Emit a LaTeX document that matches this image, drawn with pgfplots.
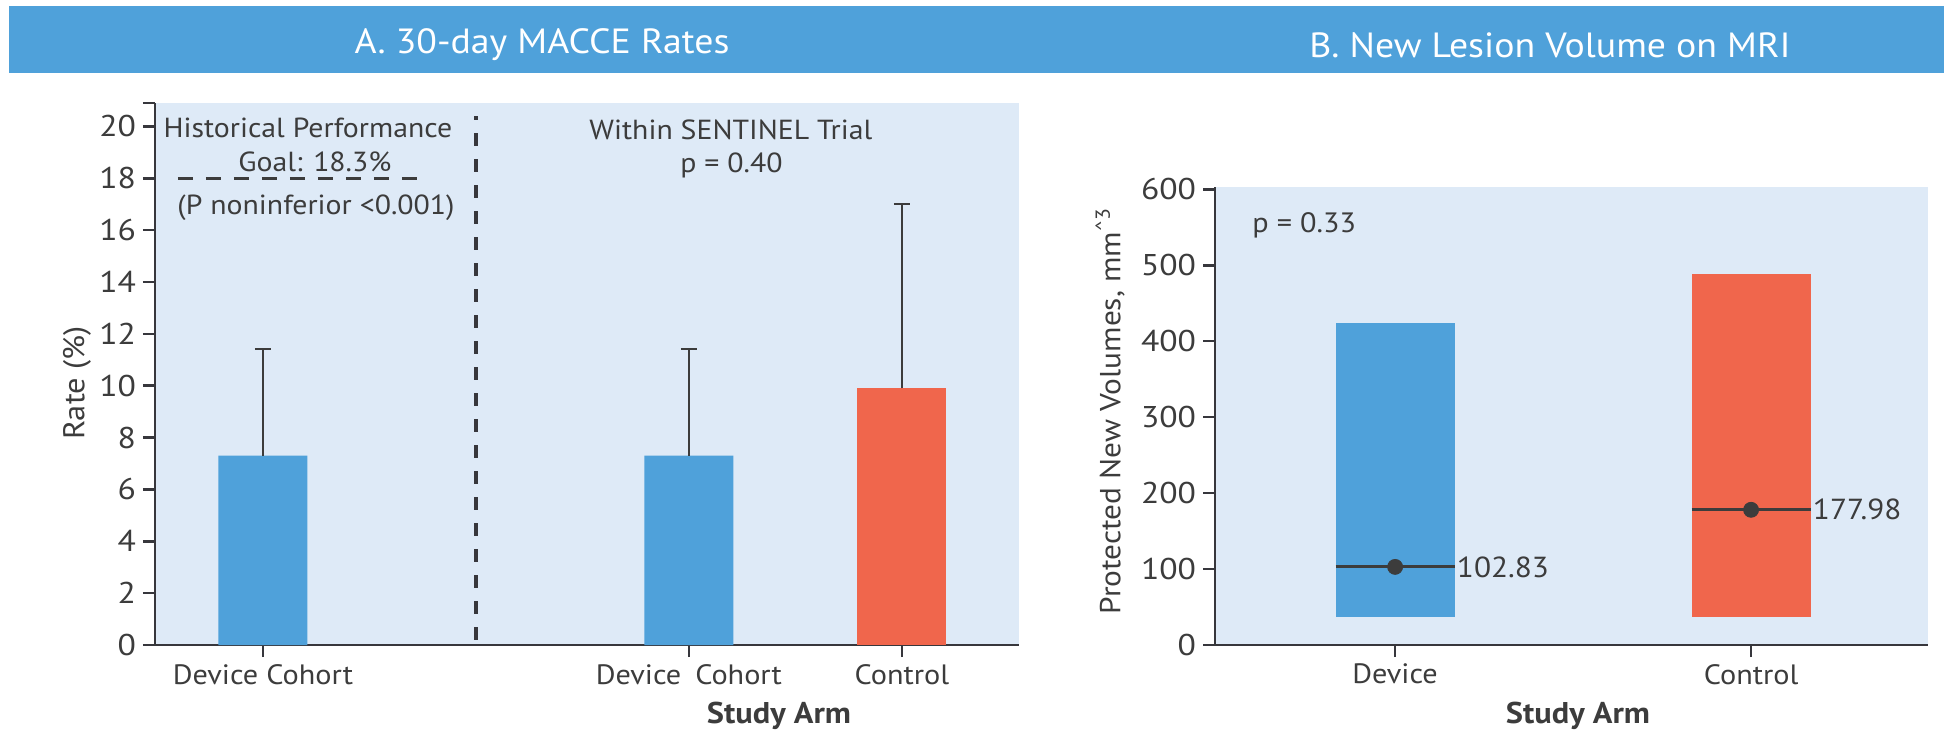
\documentclass[border=0pt]{standalone}
\usepackage{fontspec}
\setmainfont{PT Sans}[FakeStretch=1.08]
\newfontfamily\tickfont[FakeStretch=1.12]{PT Sans}
\usepackage{pgfplots}
\pgfplotsset{compat=1.18}
\definecolor{barblue}{RGB}{79,161,218}
\definecolor{barred}{RGB}{240,102,76}
\definecolor{bgblue}{RGB}{222,234,247}
\definecolor{txt}{RGB}{60,60,60}
\definecolor{axc}{RGB}{55,55,60}
\pgfplotsset{
  common/.style={
    scale only axis,
    axis x line*=bottom,
    axis y line*=left,
    axis line style={draw=axc, line width=1.3pt},
    axis background/.style={fill=bgblue},
    tick align=outside,
    major tick length=6pt,
    tick style={draw=axc, line width=1.3pt},
    yticklabel style={font=\tickfont\fontsize{15}{17}\selectfont, text=txt},
    xticklabel style={font=\fontsize{14}{16}\selectfont, text=txt},
    /pgf/number format/assume math mode=true,
    clip=false,
  },
  errb/.style={error bars/.cd, y dir=plus, y explicit,
    error bar style={draw=txt, line width=1pt},
    error mark options={rotate=90, draw=txt, line width=1pt, mark size=4pt}},
}
\begin{document}
\begin{tikzpicture}
\path[use as bounding box] (0,0) rectangle (972pt,364.5pt);
% banner
\fill[barblue] (4.5pt,328pt) rectangle (972pt,361.5pt);
\node[text=white, font=\fontsize{17.5}{19}\selectfont] at (271pt,342pt) {A. 30-day MACCE Rates};
\node[text=white, font=\fontsize{17.5}{19}\selectfont] at (775pt,342pt) {B. New Lesion Volume on MRI};

% Panel A
\begin{axis}[common,
  at={(77.5pt,42pt)}, anchor=south west,
  width=432pt, height=271pt,
  xmin=-0.507, xmax=3.55, ymin=0, ymax=20.9,
  ytick={0,2,...,20},
  extra y ticks={20.9}, extra y tick labels={},
  xtick={0,2,3}, xticklabels={Device Cohort, Device\enspace Cohort, Control},
]
\addplot[ybar, bar width=44.5pt, /pgf/bar shift=0pt, fill=barblue, draw=none, errb]
  coordinates {(0,7.3) +- (0,4.1) (2,7.3) +- (0,4.1)};
\addplot[ybar, bar width=44.5pt, /pgf/bar shift=0pt, fill=barred, draw=none, errb]
  coordinates {(3,9.9) +- (0,7.1)};
% divider
\addplot[sharp plot, no marks, draw=axc, line width=2pt, dash pattern=on 6.5pt off 6.5pt]
  coordinates {(1,0.2) (1,20.4)};
% goal line
\addplot[sharp plot, no marks, draw=txt, line width=1.5pt, dash pattern=on 7.5pt off 6.5pt]
  coordinates {(-0.40,18) (0.73,18)};
\node[text=txt, font=\fontsize{13.8}{16}\selectfont] at (axis cs:0.211,19.94) {Historical Performance};
\node[text=txt, font=\fontsize{13.8}{16}\selectfont] at (axis cs:0.244,18.63) {Goal: 18.3\%};
\node[text=txt, font=\fontsize{13.8}{16}\selectfont] at (axis cs:0.249,16.86) {(P noninferior <0.001)};
\node[text=txt, font=\fontsize{13.8}{16}\selectfont] at (axis cs:2.197,19.86) {Within SENTINEL Trial};
\node[text=txt, font=\fontsize{13.8}{16}\selectfont] at (axis cs:2.20,18.51) {p = 0.40};
\end{axis}

% Panel B
\begin{axis}[common,
  at={(607.5pt,42pt)}, anchor=south west,
  width=356.5pt, height=229pt,
  xmin=-0.506, xmax=1.497, ymin=0, ymax=603,
  ytick={0,100,...,600},
  xtick={0,1}, xticklabels={Device, Control},
]
\addplot[fill=barblue, draw=none] coordinates {(-0.167,37) (0.167,37) (0.167,424) (-0.167,424)} -- cycle;
\addplot[fill=barred, draw=none] coordinates {(0.833,37) (1.167,37) (1.167,488) (0.833,488)} -- cycle;
\addplot[sharp plot, no marks, draw=txt, line width=1.5pt] coordinates {(-0.167,102.83) (0.167,102.83)};
\addplot[sharp plot, no marks, draw=txt, line width=1.5pt] coordinates {(0.833,177.98) (1.167,177.98)};
\addplot[only marks, mark=*, mark size=3.75pt, color=txt] coordinates {(0,102.83) (1,177.98)};
\node[anchor=west, inner sep=1pt, text=txt, font=\fontsize{14.5}{16}\selectfont] at (axis cs:0.167,102.83) {102.83};
\node[anchor=west, inner sep=1pt, text=txt, font=\fontsize{14.5}{16}\selectfont] at (axis cs:1.167,177.98) {177.98};
\node[anchor=west, inner sep=0pt, text=txt, font=\fontsize{14}{16}\selectfont] at (axis cs:-0.402,553) {p = 0.33};
\end{axis}

% axis titles
\node[rotate=90, text=txt, font=\fontsize{15}{17}\selectfont] at (38.5pt,173pt) {Rate (\%)};
\node[rotate=90, text=txt, font=\fontsize{14.5}{16}\selectfont] at (555pt,159pt) {Protected New Volumes, mm\textsuperscript{\textasciicircum 3}};
\node[text=txt, font=\bfseries\fontsize{15}{17}\selectfont] at (389.5pt,6.5pt) {Study Arm};
\node[text=txt, font=\bfseries\fontsize{15}{17}\selectfont] at (789pt,6.5pt) {Study Arm};
\end{tikzpicture}
\end{document}
